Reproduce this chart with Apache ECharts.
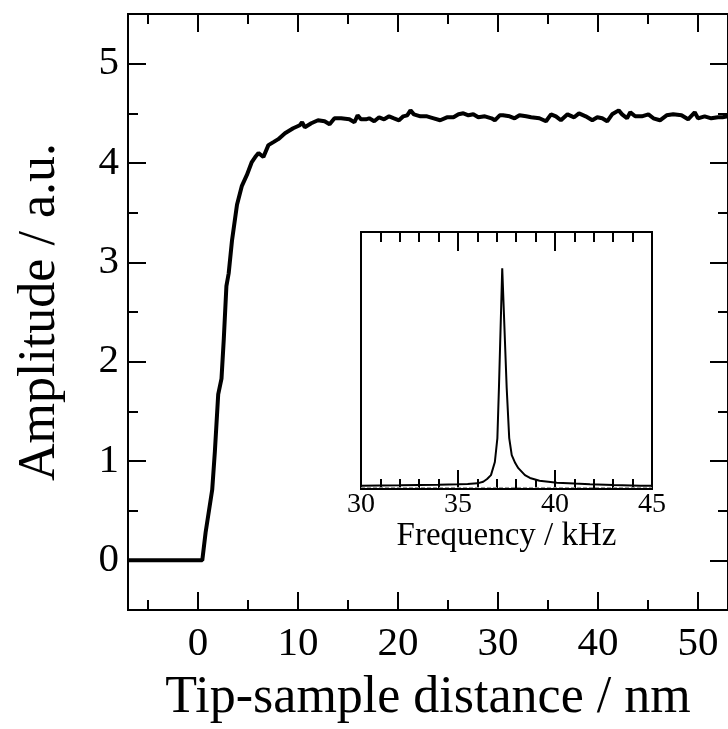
<!DOCTYPE html>
<html><head><meta charset="utf-8">
<script src="https://cdn.jsdelivr.net/npm/echarts@6/dist/echarts.min.js"></script>
<style>html,body{margin:0;padding:0;background:#fff}#c{width:728px;height:729px}</style>
</head><body><div id="c"></div>
<script>
// Main curve: amplitude vs tip-sample distance
const distance = [-7, 0.43, 0.76, 1.42, 1.69, 2.02, 2.35, 2.58, 2.84, 3.07, 3.40, 3.90, 4.39, 4.89, 5.38, 5.72, 6.05, 6.54, 7.04, 7.54, 8.03, 8.70, 9.52, 10.18, 10.41, 10.68, 11.33, 12.0, 12.66, 13.16, 13.65, 14.31, 15.14, 15.64, 15.96, 16.29, 16.79, 17.12, 17.62, 18.11, 18.61, 19.11, 19.60, 20.10, 20.53, 20.92, 21.25, 21.59, 22.24, 22.90, 23.57, 24.22, 24.89, 25.55, 26.05, 26.54, 27.04, 27.53, 28.03, 28.69, 29.35, 29.68, 30.17, 30.50, 31.16, 31.66, 32.15, 32.82, 33.31, 34.14, 34.80, 35.30, 35.79, 36.29, 36.95, 37.61, 38.10, 38.77, 39.43, 39.93, 40.42, 40.92, 41.41, 42.07, 42.41, 42.90, 43.23, 43.72, 44.38, 45.04, 45.54, 46.20, 46.86, 47.52, 48.35, 49.01, 49.67, 50.00, 50.66, 51.33, 51.99, 52.45, 53];
const amplitude = [0, 0, 0.28, 0.71, 1.10, 1.67, 1.83, 2.23, 2.76, 2.89, 3.22, 3.58, 3.77, 3.88, 4.01, 4.06, 4.10, 4.06, 4.18, 4.21, 4.24, 4.30, 4.35, 4.38, 4.41, 4.36, 4.40, 4.43, 4.42, 4.39, 4.45, 4.45, 4.44, 4.41, 4.48, 4.44, 4.44, 4.45, 4.42, 4.46, 4.44, 4.47, 4.45, 4.43, 4.47, 4.48, 4.53, 4.49, 4.47, 4.47, 4.45, 4.43, 4.46, 4.46, 4.49, 4.50, 4.48, 4.49, 4.46, 4.47, 4.45, 4.43, 4.48, 4.48, 4.47, 4.45, 4.48, 4.47, 4.46, 4.45, 4.42, 4.49, 4.47, 4.43, 4.49, 4.46, 4.50, 4.47, 4.43, 4.46, 4.45, 4.42, 4.49, 4.53, 4.49, 4.45, 4.51, 4.47, 4.47, 4.49, 4.45, 4.43, 4.48, 4.49, 4.48, 4.44, 4.51, 4.45, 4.47, 4.45, 4.46, 4.46, 4.47];

// Inset: resonance spectrum (arbitrary units 0..1)
const frequency = [30, 31, 32, 33, 34, 35, 35.5, 36, 36.3, 36.5, 36.7, 36.9, 37.03, 37.11, 37.28, 37.51, 37.64, 37.77, 37.95, 38.11, 38.45, 38.71, 39.2, 40.1, 41, 41.8, 43, 44.4, 45];
const spectrum = [0.0128, 0.0136, 0.0144, 0.0156, 0.0167, 0.0183, 0.0195, 0.022, 0.028, 0.039, 0.054, 0.105, 0.198, 0.393, 0.859, 0.393, 0.198, 0.132, 0.101, 0.081, 0.054, 0.043, 0.032, 0.0245, 0.021, 0.0183, 0.0156, 0.0128, 0.0125];
const baseFrequency = [30, 45];
const baseLevel = [0.006, 0.006];

// Tick values
const xMajorTicks = [0, 10, 20, 30, 40, 50];
const xMinorTicks = [-5, 5, 15, 25, 35, 45];
const yMajorTicks = [0, 1, 2, 3, 4, 5];
const yMinorTicks = [-0.5, 0.5, 1.5, 2.5, 3.5, 4.5, 5.5];

const FONT = 'Liberation Serif';
const line = {show: true, onZero: false, lineStyle: {color: '#000', width: 2}};

function tickAxis(extra, vals, len, labels, labelMargin, labelSize) {
  return Object.assign({
    type: 'value', splitLine: {show: false}, axisLine: line,
    axisTick: {show: true, inside: true, length: len, customValues: vals, lineStyle: {color: '#000', width: 2}},
    axisLabel: labels ? {show: true, customValues: vals, margin: labelMargin, color: '#000', fontFamily: FONT, fontSize: labelSize} : {show: false}
  }, extra);
}
function insetX(pos, interval, len, labels) {
  return {
    type: 'value', gridIndex: 1, position: pos, min: 30, max: 45, interval: interval,
    splitLine: {show: false}, axisLine: line,
    axisTick: {show: true, inside: true, length: len, lineStyle: {color: '#000', width: 2}},
    axisLabel: labels ? {show: true, margin: 2, color: '#000', fontFamily: FONT, fontSize: 28, showMinLabel: true, showMaxLabel: true} : {show: false}
  };
}

const xr = {min: -7, max: 53};
const yr = {min: -0.5, max: 5.5};

const option = {
  animation: false,
  backgroundColor: '#fff',
  grid: [
    {left: 128, top: 14, width: 605, height: 605},
    {left: 361, top: 232, width: 291, height: 257}
  ],
  xAxis: [
    tickAxis(Object.assign({position: 'bottom', name: 'Tip-sample distance / nm', nameLocation: 'middle', nameGap: 62,
      nameTextStyle: {color: '#000', fontFamily: FONT, fontSize: 52}}, xr), xMajorTicks, 18, true, 14, 41),
    tickAxis(Object.assign({position: 'bottom'}, xr), xMinorTicks, 10, false),
    tickAxis(Object.assign({position: 'top'}, xr), xMajorTicks, 18, false),
    tickAxis(Object.assign({position: 'top'}, xr), xMinorTicks, 10, false),
    Object.assign(insetX('bottom', 5, 19, true), {name: 'Frequency / kHz', nameLocation: 'middle', nameGap: 28,
      nameTextStyle: {color: '#000', fontFamily: FONT, fontSize: 33}}),
    insetX('bottom', 1, 10, false),
    insetX('top', 5, 19, false),
    insetX('top', 1, 10, false)
  ],
  yAxis: [
    tickAxis(Object.assign({position: 'left', name: 'Amplitude / a.u.', nameLocation: 'middle', nameGap: 62,
      nameTextStyle: {color: '#000', fontFamily: FONT, fontSize: 52}}, yr), yMajorTicks, 18, true, 9, 41),
    tickAxis(Object.assign({position: 'left'}, yr), yMinorTicks, 10, false),
    tickAxis(Object.assign({position: 'right'}, yr), yMajorTicks, 18, false),
    tickAxis(Object.assign({position: 'right'}, yr), yMinorTicks, 10, false),
    {type: 'value', gridIndex: 1, position: 'left', min: 0, max: 1, splitLine: {show: false}, axisLine: line, axisTick: {show: false}, axisLabel: {show: false}},
    {type: 'value', gridIndex: 1, position: 'right', min: 0, max: 1, splitLine: {show: false}, axisLine: line, axisTick: {show: false}, axisLabel: {show: false}}
  ],
  series: [
    {type: 'line', xAxisIndex: 0, yAxisIndex: 0, symbol: 'none', lineStyle: {color: '#000', width: 4},
      data: distance.map((d, i) => [d, amplitude[i]])},
    {type: 'line', xAxisIndex: 4, yAxisIndex: 4, symbol: 'none', lineStyle: {color: '#999', width: 1, type: 'dashed'},
      data: baseFrequency.map((f, i) => [f, baseLevel[i]])},
    {type: 'line', xAxisIndex: 4, yAxisIndex: 4, symbol: 'none', lineStyle: {color: '#000', width: 2},
      data: frequency.map((f, i) => [f, spectrum[i]])}
  ]
};
const chart = echarts.init(document.getElementById('c'), null, {renderer: 'canvas'});
chart.setOption(option);
</script>
</body></html>
